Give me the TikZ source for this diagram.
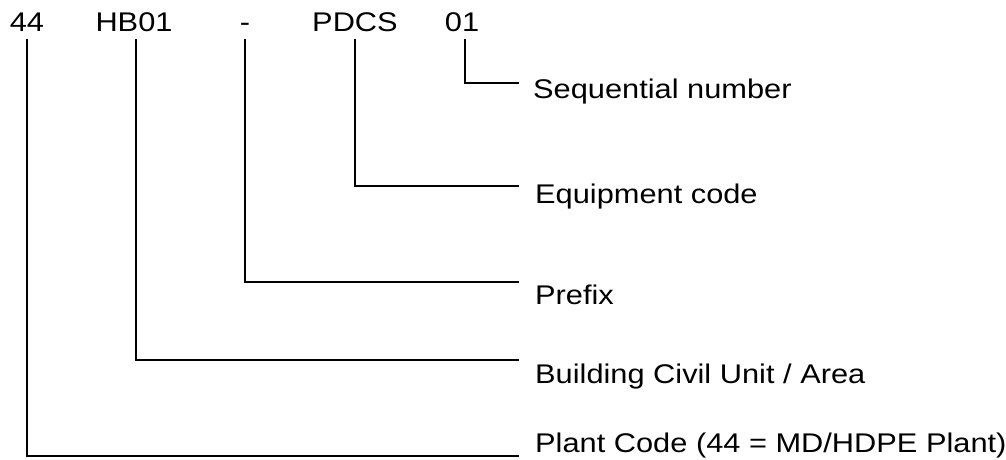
\documentclass[tikz,border=0pt]{standalone}
\usepackage{fontspec}
\setmainfont{Liberation Sans}[FakeStretch=1.14]
\begin{document}
\begin{tikzpicture}[x=1pt,y=-1pt,
  lbl/.style={anchor=base west,inner sep=0pt,font=\fontsize{27}{30}\selectfont},
  code/.style={anchor=base,inner sep=0pt,font=\fontsize{27}{30}\selectfont},
  conn/.style={line width=2.4pt,line cap=butt,line join=miter}]
\path[use as bounding box] (0,0) rectangle (1006,459);
% code parts
\node[code] (c44)   at (27,31)  {44};
\node[code] (cHB)   at (134,31) {HB01};
\node[code] (cdash) at (245,31) {-};
\node[code] (cPDCS) at (355,31) {PDCS};
\node[code] (c01)   at (462,31) {01};
% descriptions
\node[lbl] (dSeq)   at (533,98)  {Sequential number};
\node[lbl] (dEq)    at (535,203) {Equipment code};
\node[lbl] (dPre)   at (535,304) {Prefix};
\node[lbl] (dBld)   at (535,383) {Building Civil Unit / Area};
\node[lbl] (dPlant) at (535,452) {Plant Code (44 = MD/HDPE Plant)};
% connector ends
\coordinate (s01)   at (465,39);
\coordinate (sPDCS) at (355,39);
\coordinate (sdash) at (245,39);
\coordinate (sHB)   at (136,39);
\coordinate (s44)   at (27,39);
\coordinate (e01)   at (519,83);
\coordinate (ePDCS) at (519,186);
\coordinate (edash) at (519,282);
\coordinate (eHB)   at (519,360);
\coordinate (e44)   at (519,456);
\draw[conn] (s01) |- (e01);
\draw[conn] (sPDCS) |- (ePDCS);
\draw[conn] (sdash) |- (edash);
\draw[conn] (sHB) |- (eHB);
\draw[conn] (s44) |- (e44);
\end{tikzpicture}
\end{document}
